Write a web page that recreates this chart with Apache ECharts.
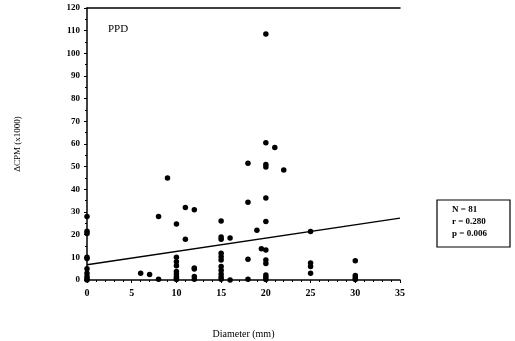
<!DOCTYPE html>
<html>
<head>
<meta charset="utf-8">
<script src="https://cdn.jsdelivr.net/npm/echarts@6/dist/echarts.min.js"></script>
<style>
  html, body { margin: 0; padding: 0; background: #fff; }
  #chart { width: 515px; height: 341px; }
</style>
</head>
<body>
<div id="chart"></div>
<script>
// lesion diameter (mm) and delta CPM (x1000)
var diam = [0, 0, 0, 0, 0, 0, 0, 0, 0, 0,
  6, 7, 8, 8, 9,
  10, 10, 10, 10, 10, 10, 10, 10, 10,
  11, 11, 12, 12, 12, 12, 12,
  15, 15, 15, 15, 15, 15, 15, 15, 15, 15, 15,
  16, 16, 18, 18, 18, 18, 19, 19.5,
  20, 20, 20, 20, 20, 20, 20, 20, 20, 20, 20, 20,
  21, 22, 25, 25, 25, 25, 30, 30, 30, 30];
var cpm = [28, 21.5, 20.5, 10, 9.5, 5, 3, 1.5, 0.5, 0,
  3, 2.4, 28, 0.3, 45,
  24.7, 10, 8, 6.3, 3.7, 2.6, 1.5, 0.8, 0.2,
  32, 18, 31, 5.3, 4.8, 1.5, 0.3,
  26, 19, 18, 11.8, 10.3, 8.8, 6, 4.3, 2.6, 1.3, 0.3,
  18.5, 0, 51.5, 34.3, 9.2, 0.3, 22, 13.8,
  108.5, 60.5, 51, 49.8, 36.2, 25.8, 13.2, 8.8, 7.3, 2.2, 1.2, 0.2,
  58.5, 48.5, 21.4, 7.5, 6, 3, 8.5, 2, 1, 0.2];
// regression line end points
var fitX = [0, 35];
var fitY = [6.7, 27.3];
var stats = ["N = 81", "r = 0.280", "p = 0.006"];

var serif = "Liberation Serif";
var chart = echarts.init(document.getElementById("chart"));
var option = {
  animation: false,
  backgroundColor: "#fff",
  grid: { left: 87, right: 115, top: 8, bottom: 61, outerBoundsMode: "none", containLabel: false },
  xAxis: [
    {
      type: "value",
      min: 0,
      max: 35,
      interval: 5,
      name: "Diameter (mm)",
      nameLocation: "middle",
      nameGap: 49,
      nameTextStyle: { fontFamily: serif, fontSize: 10, color: "#000" },
      axisLine: { lineStyle: { color: "#000", width: 1.5 } },
      axisTick: { length: 3, lineStyle: { color: "#000" } },
      minorTick: { show: true, splitNumber: 5, length: 2, lineStyle: { color: "#000" } },
      axisLabel: { fontFamily: serif, fontSize: 10, fontWeight: "bold", color: "#000", margin: 8 },
      splitLine: { show: false }
    },
    {
      type: "value",
      position: "top",
      min: 0,
      max: 35,
      axisLine: { show: true, onZero: false, lineStyle: { color: "#000", width: 1.5 } },
      axisTick: { show: false },
      axisLabel: { show: false },
      splitLine: { show: false }
    }
  ],
  yAxis: {
    type: "value",
    min: 0,
    max: 120,
    interval: 10,
    name: "\u0394CPM (x1000)",
    nameLocation: "middle",
    nameGap: 65,
    nameRotate: 90,
    nameTextStyle: { fontFamily: serif, fontSize: 9, color: "#000" },
    axisLine: { show: true, lineStyle: { color: "#000", width: 1.5 } },
    axisTick: { length: 3, lineStyle: { color: "#000" } },
    minorTick: { show: true, splitNumber: 2, length: 2, lineStyle: { color: "#000" } },
    axisLabel: { fontFamily: serif, fontSize: 9, fontWeight: "bold", color: "#000", margin: 7 },
    splitLine: { show: false }
  },
  series: [
    {
      type: "scatter",
      symbolSize: 5.5,
      itemStyle: { color: "#000", opacity: 1 },
      data: diam.map(function (d, i) { return [d, cpm[i]]; })
    },
    {
      type: "line",
      symbol: "none",
      lineStyle: { color: "#000", width: 1.5 },
      data: fitX.map(function (d, i) { return [d, fitY[i]]; })
    }
  ],
  graphic: [
    {
      type: "text",
      left: 108,
      top: 24,
      style: { text: "PPD", font: "11px " + serif, fill: "#000" }
    },
    {
      type: "rect",
      shape: { x: 437, y: 200, width: 73, height: 47 },
      style: { fill: "#fff", stroke: "#000", lineWidth: 1.2 }
    },
    {
      type: "text",
      left: 452,
      top: 204,
      style: { text: stats.join("\n"), font: "bold 9px " + serif, lineHeight: 12, fill: "#000" }
    }
  ]
};
chart.setOption(option);
</script>
</body>
</html>
